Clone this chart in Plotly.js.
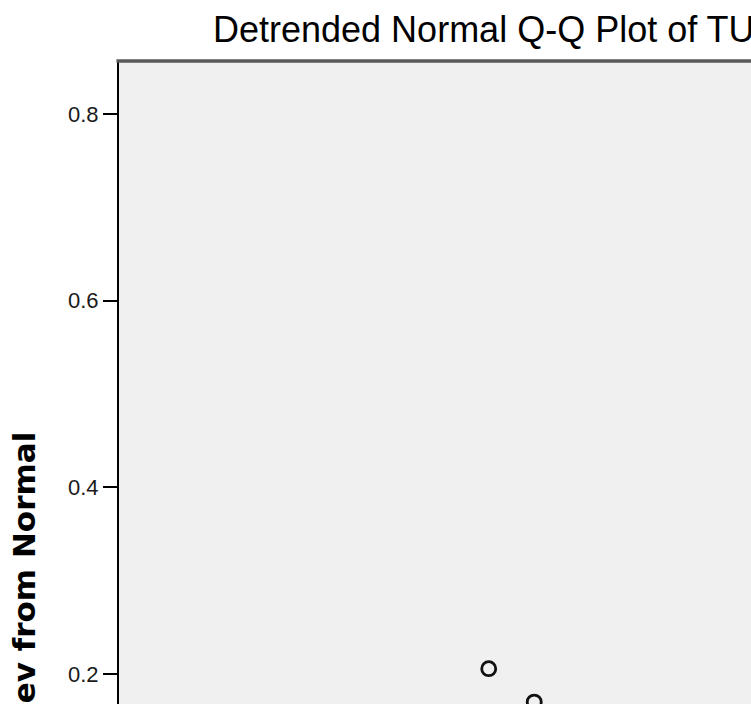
<!DOCTYPE html>
<html>
<head>
<meta charset="utf-8">
<script src="https://cdn.plot.ly/plotly-3.0.1.min.js"></script>
<style>
html,body{margin:0;padding:0;overflow:hidden;background:#fff;}
#chart{width:751px;height:704px;}
</style>
</head>
<body>
<div id="chart"></div>
<script>
// Data (visible portion only)
var observedValues = [58.5, 65.7];
var devFromNormal = [0.2057, 0.170];
var yTickVals = [0.2, 0.4, 0.6, 0.8];
var yTickText = ['0.2', '0.4', '0.6', '0.8'];
var chartTitle = 'Detrended Normal Q-Q Plot of TU';
var yTitle = 'Dev from Normal';

var trace = {
  x: observedValues,
  y: devFromNormal,
  type: 'scatter',
  mode: 'markers',
  marker: {
    symbol: 'circle-open',
    size: 14,
    color: '#111',
    line: {width: 2.8, color: '#111'}
  },
  cliponaxis: true,
  hoverinfo: 'none'
};

var layout = {
  width: 751,
  height: 704,
  margin: {l: 119, r: 0, t: 61, b: 0, pad: 0},
  paper_bgcolor: '#ffffff',
  plot_bgcolor: '#f0f0f0',
  showlegend: false,
  title: {
    text: chartTitle,
    font: {family: 'Liberation Sans, Arial, sans-serif', size: 36, color: '#000'},
    xref: 'container', yref: 'container',
    x: 213/751, xanchor: 'left',
    y: 1 - 29/704, yanchor: 'middle'
  },
  xaxis: {
    visible: false,
    range: [0, 100],
    fixedrange: true
  },
  yaxis: {
    range: [0.1679, 0.8568],
    showgrid: false,
    zeroline: false,
    showline: true,
    linecolor: '#000',
    linewidth: 2,
    ticks: 'outside',
    ticklen: 14,
    tickwidth: 2,
    tickcolor: '#000',
    tickvals: yTickVals,
    ticktext: yTickText,
    tickfont: {family: 'Liberation Sans, Arial, sans-serif', size: 22, color: '#1a1a1a'},
    fixedrange: true
  },
  shapes: [
    {type: 'line', xref: 'paper', yref: 'paper', x0: -0.004, x1: 1.01, y0: 1, y1: 1,
     line: {color: '#5a5a5a', width: 3.5}}
  ],
  annotations: [
    {
      text: '<b>' + yTitle + '</b>',
      xref: 'paper', yref: 'paper',
      x: (24 - 119) / 632, y: (704 - 581) / 643,
      xanchor: 'center', yanchor: 'middle',
      textangle: -90,
      showarrow: false,
      font: {family: 'DejaVu Sans, Verdana, sans-serif', size: 31, color: '#000'}
    }
  ]
};

Plotly.newPlot('chart', [trace], layout, {displayModeBar: false, staticPlot: true});
</script>
</body>
</html>
